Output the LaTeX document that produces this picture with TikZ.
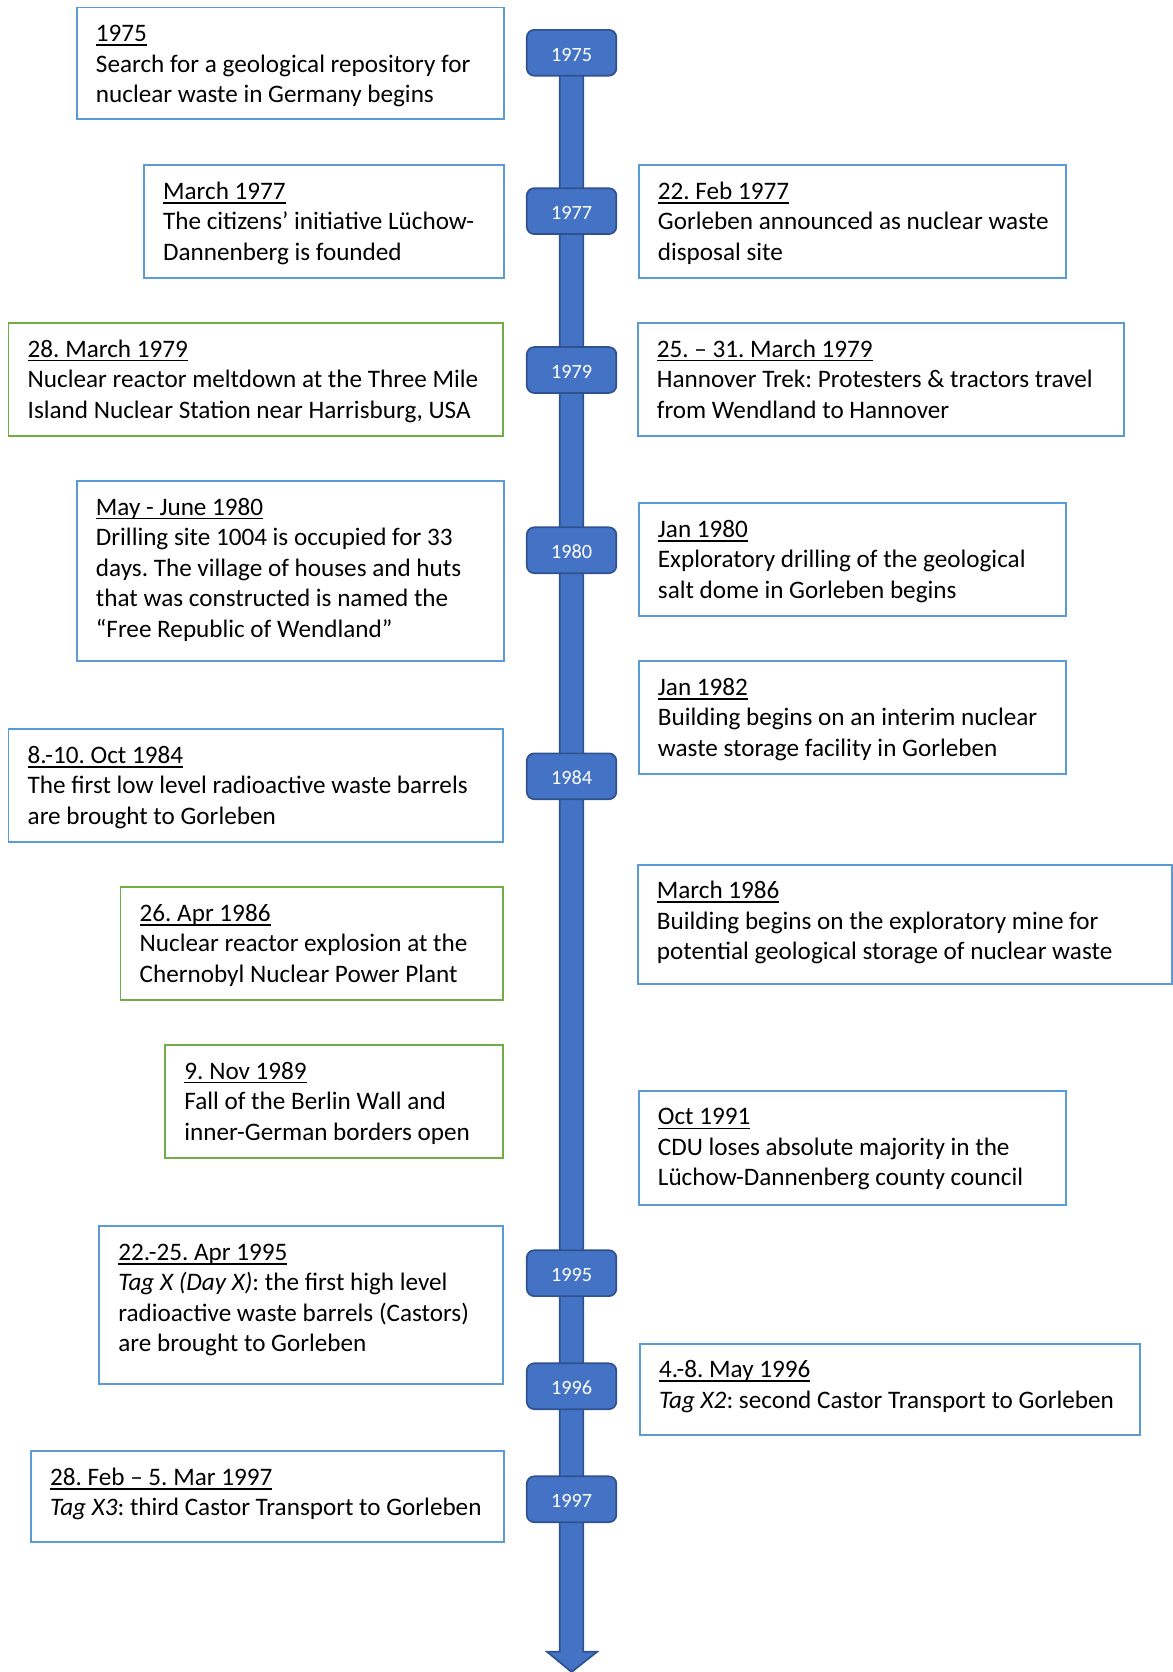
\documentclass[tikz,border=0pt]{standalone}
\usepackage{fontspec}
\setmainfont{Carlito}
\frenchspacing
\definecolor{boxblue}{HTML}{5B9BD5}
\definecolor{boxgreen}{HTML}{70AD47}
\definecolor{badgefill}{HTML}{4472C4}
\definecolor{badgeline}{HTML}{2F528F}
\newcommand\hdr[1]{\setbox0\hbox{#1}\rule{0pt}{10pt}\rlap{\rule[-2pt]{\wd0}{0.8pt}}\box0}
\newcommand\tbox[7]{%
  \node[#6, minimum width={(#4-#2)*0.5pt}, minimum height={(#5-#3)*0.5pt}] (#1) at ({(#2+#4)/2},{(#3+#5)/2}) {};
  \node[txt] (#1t) at ([xshift=9pt,yshift=-6pt]#1.north west) {#7};}
\tikzset{
  bluebox/.style={draw=boxblue, line width=0.9pt, inner sep=0pt, outer sep=0pt, rectangle},
  greenbox/.style={draw=boxgreen, line width=0.9pt, inner sep=0pt, outer sep=0pt, rectangle},
  txt/.style={anchor=north west, inner sep=0pt, outer sep=0pt, align=left, font=\fontsize{11.8}{14.3}\selectfont\frenchspacing, text=black},
  badge/.style={rectangle, rounded corners=3.5pt, fill=badgefill, draw=badgeline, line width=0.8pt,
    minimum width=42pt, minimum height=21.5pt, inner sep=0pt, text=white, text height=8pt, text depth=0pt,
    font=\fontsize{9.5}{11}\selectfont},
  spine/.style={fill=badgefill, draw=badgeline, line width=0.8pt, line join=miter}
}
\begin{document}
\begin{tikzpicture}[x=0.5pt, y=-0.5pt]
\useasboundingbox (0,0) rectangle (1100,1568);
% timeline spine
\coordinate (top) at (536,50);
\coordinate (tip) at (536,1568);
\draw[spine] (525,50) -- (525,1549) -- (513,1549) -- (tip) -- (560,1549) -- (547,1549) -- (547,50) -- cycle;
% badges
\node[badge] (b1975) at (536,49.5) {1975};
\node[badge] (b1977) at (536,198) {1977};
\node[badge] (b1979) at (536,347) {1979};
\node[badge] (b1980) at (536,516) {1980};
\node[badge] (b1984) at (536,728) {1984};
\node[badge] (b1995) at (536,1194) {1995};
\node[badge] (b1996) at (536,1300) {1996};
\node[badge] (b1997) at (536,1406) {1997};
% left boxes
\tbox{l1975}{72}{7}{473}{112}{bluebox}{\hdr{1975}\\Search for a geological repository for\\nuclear waste in Germany begins}
\tbox{l1977}{135}{155}{473}{261}{bluebox}{\hdr{March 1977}\\The citizens’ initiative Lüchow-\\Dannenberg is founded}
\tbox{l1979}{8}{303}{472}{409}{greenbox}{\hdr{28. March 1979}\\Nuclear reactor meltdown at the Three Mile\\Island Nuclear Station near Harrisburg, USA}
\tbox{l1980}{72}{451}{473}{620}{bluebox}{\hdr{May - June 1980}\\Drilling site 1004 is occupied for 33\\days. The village of houses and huts\\that was constructed is named the\\“Free Republic of Wendland”}
\tbox{l1984}{8}{684}{472}{790}{bluebox}{\hdr{8.-10. Oct 1984}\\The first low level radioactive waste barrels\\are brought to Gorleben}
\tbox{l1986}{113}{832}{472}{938}{greenbox}{\hdr{26. Apr 1986}\\Nuclear reactor explosion at the\\Chernobyl Nuclear Power Plant}
\tbox{l1989}{155}{980}{472}{1086}{greenbox}{\hdr{9. Nov 1989}\\Fall of the Berlin Wall and\\inner-German borders open}
\tbox{l1995}{93}{1150}{472}{1298}{bluebox}{\hdr{22.-25. Apr 1995}\\\textit{Tag X (Day X)}: the first high level\\radioactive waste barrels (Castors)\\are brought to Gorleben}
\tbox{l1997}{29}{1361}{473}{1446}{bluebox}{\hdr{28. Feb – 5. Mar 1997}\\\textit{Tag X3}: third Castor Transport to Gorleben}
% right boxes
\tbox{r1977}{599}{155}{1000}{261}{bluebox}{\hdr{22. Feb 1977}\\Gorleben announced as nuclear waste\\disposal site}
\tbox{r1979}{598}{303}{1054}{409}{bluebox}{\hdr{25. – 31. March 1979}\\Hannover Trek: Protesters \& tractors travel\\from Wendland to Hannover}
\tbox{r1980}{599}{472}{1000}{578}{bluebox}{\hdr{Jan 1980}\\Exploratory drilling of the geological\\salt dome in Gorleben begins}
\tbox{r1982}{599}{620}{1000}{726}{bluebox}{\hdr{Jan 1982}\\Building begins on an interim nuclear\\waste storage facility in Gorleben}
\tbox{r1986}{598}{811}{1099}{923}{bluebox}{\hdr{March 1986}\\Building begins on the exploratory mine for\\potential geological storage of nuclear waste}
\tbox{r1991}{599}{1023}{1000}{1130}{bluebox}{\hdr{Oct 1991}\\CDU loses absolute majority in the\\Lüchow-Dannenberg county council}
\tbox{r1996}{600}{1260}{1069}{1346}{bluebox}{\hdr{4.-8. May 1996}\\\textit{Tag X2}: second Castor Transport to Gorleben}
\end{tikzpicture}
\end{document}
